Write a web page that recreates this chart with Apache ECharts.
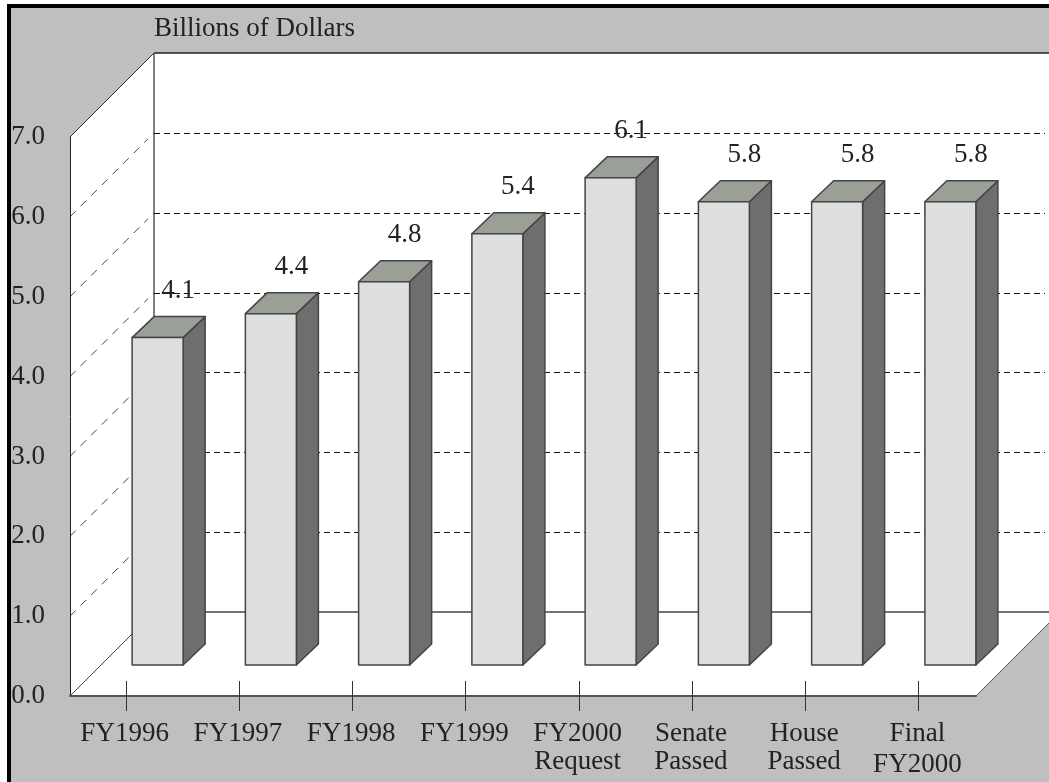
<!DOCTYPE html>
<html>
<head>
<meta charset="utf-8">
<title>Billions of Dollars</title>
<style>
  html, body { margin: 0; padding: 0; background: #fff; }
  #chart { width: 1049px; height: 782px; }
</style>
<script src="https://cdn.jsdelivr.net/npm/echarts@6/dist/echarts.min.js"></script>
</head>
<body>
<div id="chart"></div>
<script>
var categories = ["FY1996", "FY1997", "FY1998", "FY1999", "FY2000\nRequest", "Senate\nPassed", "House\nPassed", "Final\nFY2000"];
var values = [4.1, 4.4, 4.8, 5.4, 6.1, 5.8, 5.8, 5.8];
var gridLevels = [1, 2, 3, 4, 5, 6];
var unitLabel = "Billions of Dollars";

var FONT = '"Liberation Serif", "Times New Roman", serif';
var FONT_SIZE = 27;
var WALL_DEPTH = 84;
var BAR_DEPTH = 22;
var BAR_LIFT = 31;
var BAR_SHIFT = 5.5;
var BAR_WIDTH = 51;
var YMAX = 7;

var chart = echarts.init(document.getElementById("chart"));

function edge(x1, y1, x2, y2, color, width) {
  return {
    type: "line",
    shape: { x1: x1, y1: y1, x2: x2, y2: y2 },
    style: { stroke: color, lineWidth: width }
  };
}

function poly(points, fill) {
  return {
    type: "polygon",
    shape: { points: points },
    style: { fill: fill, stroke: null }
  };
}

// 白色的墙面和地面
function renderWalls(params, api) {
  var band = api.size([1, 0])[0];
  var right = api.getWidth();
  var origin = api.coord([0, 0]);
  var left = origin[0] - band / 2;
  var base = origin[1];
  var top = api.coord([0, YMAX])[1];
  var end = api.coord([categories.length - 1, 0])[0] + band / 2;
  var backX = left + WALL_DEPTH;
  var backBase = base - WALL_DEPTH;
  var backTop = top - WALL_DEPTH;
  var floorCut = right - end;

  return {
    type: "group",
    children: [
      poly([[backX, backTop], [right, backTop], [right, backBase], [backX, backBase]], "#fff"),
      poly([[left, top], [backX, backTop], [backX, backBase], [left, base]], "#fff"),
      poly([[left, base], [backX, backBase], [right, backBase], [right, base - floorCut], [end, base]], "#fff"),
      edge(backX, backTop, right, backTop, "#222", 1.5),
      edge(backX, backBase, right, backBase, "#444", 1.5),
      edge(backX, backTop, backX, backBase, "#555", 1.5),
      edge(left, top, backX, backTop, "#333", 1),
      edge(left, base, backX, backBase, "#444", 1),
      edge(end, base, right, base - floorCut, "#555", 1)
    ]
  };
}

// 虚线网格：侧墙一段 + 后墙一段
function renderGrid(params, api) {
  var band = api.size([1, 0])[0];
  var y = api.coord([0, api.value(0)])[1];
  var left = api.coord([0, 0])[0] - band / 2;
  var backX = left + WALL_DEPTH;
  var backY = Math.round(y - WALL_DEPTH) + 0.5;
  var back = edge(backX, backY, api.getWidth() - 4, backY, "#111", 1);
  var side = edge(left, y, backX - 6, y - WALL_DEPTH + 6, "#444", 1);
  back.style.lineDash = [6, 4];
  side.style.lineDash = [8, 7];
  return { type: "group", children: [side, back] };
}

function renderBar(params, api) {
  var zero = api.coord([api.value(0), 0]);
  var x = zero[0] + BAR_SHIFT;
  var bottom = zero[1] - BAR_LIFT;
  var top = api.coord([api.value(0), api.value(1)])[1] - BAR_LIFT;
  var w = BAR_WIDTH;
  var d = BAR_DEPTH;
  var h = d - 1;
  var line = { stroke: "#444", lineWidth: 1.5, lineJoin: "round" };

  return {
    type: "group",
    children: [
      {
        type: "polygon",
        shape: { points: [[x + w, top], [x + w + d, top - h], [x + w + d, bottom - h], [x + w, bottom]] },
        style: Object.assign({ fill: "#6e6e6e" }, line)
      },
      {
        type: "polygon",
        shape: { points: [[x, top], [x + d, top - h], [x + w + d, top - h], [x + w, top]] },
        style: Object.assign({ fill: "#9a9f98" }, line)
      },
      {
        type: "rect",
        shape: { x: x, y: top, width: w, height: bottom - top },
        style: Object.assign({ fill: "#dedede" }, line)
      },
      {
        type: "text",
        style: {
          text: api.value(1).toFixed(1),
          x: x + w - 5,
          y: top - 47,
          align: "center",
          verticalAlign: "middle",
          font: FONT_SIZE + "px " + FONT,
          fill: "#222"
        }
      }
    ]
  };
}

function renderTick(params, api) {
  var p = api.coord([api.value(0), 0]);
  var x = Math.floor(p[0] - 0.5) + 0.5;
  return edge(x, p[1] - 15, x, p[1] + 15, "#333", 1);
}

var option = {
  animation: false,
  backgroundColor: "#fff",
  textStyle: { fontFamily: FONT },
  graphic: [
    { type: "rect", z: -2, shape: { x: 7, y: 4, width: 1042, height: 778 }, style: { fill: "#000" } },
    { type: "rect", z: -1, shape: { x: 11, y: 8, width: 1038, height: 774 }, style: { fill: "#bfbfbf" } },
    {
      type: "text",
      z: -1,
      style: { text: unitLabel, x: 154, y: 29, verticalAlign: "middle", font: FONT_SIZE + "px " + FONT, fill: "#222" }
    }
  ],
  grid: { left: 70, top: 137, width: 906, height: 560 },
  xAxis: {
    type: "category",
    data: categories,
    z: 10,
    axisLine: { show: true, lineStyle: { color: "#555", width: 2 } },
    axisTick: { show: false },
    axisLabel: {
      interval: 0,
      margin: 24,
      padding: [0, 4, 0, 0],
      fontFamily: FONT,
      fontSize: FONT_SIZE,
      lineHeight: 28,
      color: "#222",
      formatter: function(v) {
        // 最后一个标签第二行略低
        if (v === categories[categories.length - 1]) {
          var parts = v.split("\n");
          return parts[0] + "\n{low|" + parts[1] + "}";
        }
        return v;
      },
      rich: {
        low: { fontFamily: FONT, fontSize: FONT_SIZE, lineHeight: 34, color: "#222" }
      }
    }
  },
  yAxis: {
    type: "value",
    min: 0,
    max: YMAX,
    interval: 1,
    z: 10,
    splitLine: { show: false },
    axisTick: { show: false },
    axisLine: { show: true, lineStyle: { color: "#222", width: 1 } },
    axisLabel: {
      margin: 25,
      fontFamily: FONT,
      fontSize: FONT_SIZE,
      color: "#222",
      formatter: function(v) {
        return v.toFixed(1);
      }
    }
  },
  series: [
    { type: "custom", z: 1, silent: true, data: [0], renderItem: renderWalls },
    { type: "custom", z: 2, silent: true, data: gridLevels, encode: { y: 0 }, renderItem: renderGrid },
    {
      type: "custom",
      z: 3,
      silent: true,
      data: values.map(function(v, i) {
        return [i, v];
      }),
      encode: { x: 0, y: 1 },
      renderItem: renderBar
    },
    {
      type: "custom",
      z: 11,
      silent: true,
      data: categories.map(function(c, i) {
        return [i];
      }),
      encode: { x: 0 },
      renderItem: renderTick
    }
  ]
};

chart.setOption(option);
</script>
</body>
</html>
